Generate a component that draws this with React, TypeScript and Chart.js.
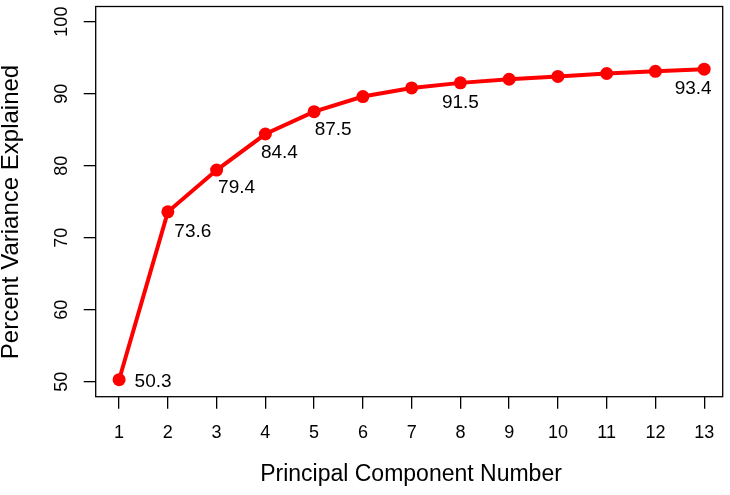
import { useEffect, useRef } from 'react';
import { Chart, registerables } from 'chart.js';

Chart.register(...registerables);

const components = [1, 2, 3, 4, 5, 6, 7, 8, 9, 10, 11, 12, 13];
const variance = [50.3, 73.6, 79.4, 84.4, 87.5, 89.6, 90.8, 91.5, 92.0, 92.4, 92.8, 93.1, 93.4];
const xTicks = [1, 2, 3, 4, 5, 6, 7, 8, 9, 10, 11, 12, 13];
const yTicks = [50, 60, 70, 80, 90, 100];
const labeledIndex = [0, 1, 2, 3, 4, 7, 12];
const xTitle = 'Principal Component Number';
const yTitle = 'Percent Variance Explained';

// pixel offsets of each value label from its point (style only)
const labelOffsets: Record<number, [number, number]> = {
  0: [34, 2],
  1: [25, 20],
  2: [20, 18],
  3: [14, 19],
  4: [19, 18],
  7: [0, 20],
  12: [-11, 20],
};

const FONT = '"Liberation Sans", Arial, Helvetica, sans-serif';
const RED = '#ff0000';

const rPlot = {
  id: 'rPlot',
  afterDraw(chart: any) {
    const { ctx, chartArea } = chart;
    const xs = chart.scales.x;
    const ys = chart.scales.y;
    ctx.save();
    // box
    ctx.strokeStyle = '#000';
    ctx.lineWidth = 1.3;
    ctx.strokeRect(chartArea.left, chartArea.top, chartArea.right - chartArea.left, chartArea.bottom - chartArea.top);
    ctx.fillStyle = '#000';
    // x tick labels
    ctx.font = `18px ${FONT}`;
    ctx.textAlign = 'center';
    ctx.textBaseline = 'middle';
    xs.ticks.forEach((t: any) => {
      ctx.fillText(String(t.value), xs.getPixelForValue(t.value), 433);
    });
    // y tick labels (rotated)
    ys.ticks.forEach((t: any) => {
      ctx.save();
      ctx.translate(62, ys.getPixelForValue(t.value));
      ctx.rotate(-Math.PI / 2);
      ctx.fillText(String(t.value), 0, 0);
      ctx.restore();
    });
    // titles
    ctx.font = `23px ${FONT}`;
    ctx.fillText(xTitle, 411, 475);
    ctx.save();
    ctx.font = `24px ${FONT}`;
    ctx.translate(11, 212);
    ctx.rotate(-Math.PI / 2);
    ctx.fillText(yTitle, 0, 0);
    ctx.restore();
    // value labels
    ctx.font = `19px ${FONT}`;
    labeledIndex.forEach((i) => {
      const [dx, dy] = labelOffsets[i] || [0, 20];
      const px = xs.getPixelForValue(components[i]);
      const py = ys.getPixelForValue(variance[i]);
      ctx.fillText(variance[i].toFixed(1), px + dx, py + dy);
    });
    ctx.restore();
  },
};

export default function App() {
  const ref = useRef<HTMLCanvasElement>(null);
  useEffect(() => {
    document.body.style.margin = '0';
    const chart = new Chart(ref.current!, {
      type: 'line',
      data: {
        datasets: [
          {
            data: components.map((c, i) => ({ x: c, y: variance[i] })),
            borderColor: RED,
            backgroundColor: RED,
            borderWidth: 4,
            pointRadius: 6.5,
            pointBorderWidth: 0,
            pointBackgroundColor: RED,
            tension: 0,
          },
        ],
      },
      options: {
        animation: false,
        responsive: true,
        maintainAspectRatio: false,
        layout: { padding: { top: 3, right: 7.3, left: 0, bottom: 0 } },
        plugins: { legend: { display: false }, tooltip: { enabled: false } },
        scales: {
          x: {
            type: 'linear',
            min: 0.52,
            max: 13.38,
            afterBuildTicks: (s: any) => {
              s.ticks = xTicks.map((v) => ({ value: v }));
            },
            afterFit: (s: any) => {
              s.height = 98.3;
            },
            grid: { display: true, drawOnChartArea: false, drawTicks: true, tickLength: 12, color: '#000', lineWidth: 1.3 },
            border: { display: false },
            ticks: { display: false },
          },
          y: {
            type: 'linear',
            min: 47.94,
            max: 102.1,
            afterBuildTicks: (s: any) => {
              s.ticks = yTicks.map((v) => ({ value: v }));
            },
            afterFit: (s: any) => {
              s.width = 95.7;
            },
            grid: { display: true, drawOnChartArea: false, drawTicks: true, tickLength: 12, color: '#000', lineWidth: 1.3 },
            border: { display: false },
            ticks: { display: false },
          },
        },
      },
      plugins: [rPlot],
    });
    return () => chart.destroy();
  }, []);
  return (
    <div style={{ position: 'fixed', left: 0, top: 0, width: 730, height: 495, background: '#fff' }}>
      <canvas ref={ref} />
    </div>
  );
}
